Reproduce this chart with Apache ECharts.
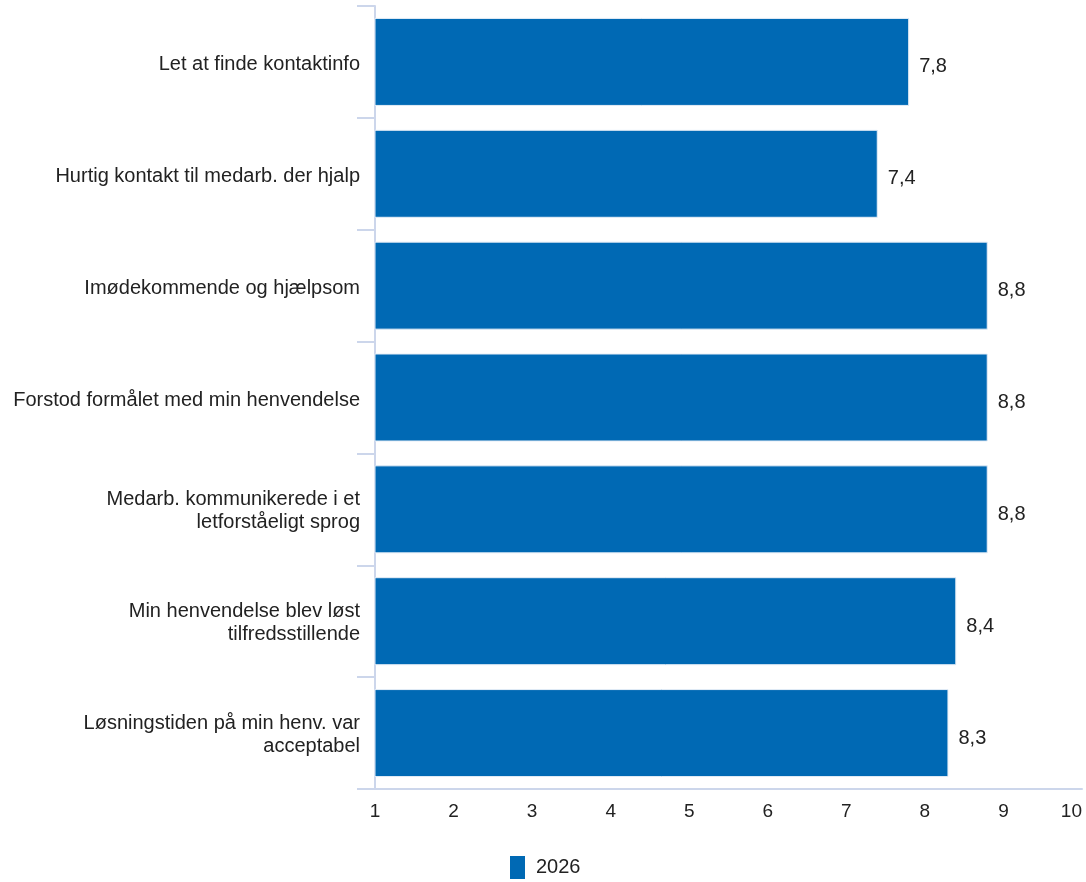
<!DOCTYPE html>
<html>
<head>
<meta charset="utf-8">
<script src="https://cdn.jsdelivr.net/npm/echarts@6/dist/echarts.min.js"></script>
<style>
html,body{margin:0;padding:0;background:#fff;}
#chart{width:1086px;height:882px;}
</style>
</head>
<body>
<div id="chart"></div>
<script>
const categories = [
  "Let at finde kontaktinfo",
  "Hurtig kontakt til medarb. der hjalp",
  "Imødekommende og hjælpsom",
  "Forstod formålet med min henvendelse",
  "Medarb. kommunikerede i et\nletforståeligt sprog",
  "Min henvendelse blev løst\ntilfredsstillende",
  "Løsningstiden på min henv. var\nacceptabel"
];
const values2026 = [7.8, 7.4, 8.8, 8.8, 8.8, 8.4, 8.3];
const seriesName = "2026";

const chart = echarts.init(document.getElementById('chart'), null, {renderer: 'canvas'});
const FONT = 'Liberation Sans, Arial, sans-serif';
const lblStyle = {fontSize: 20, color: '#222', lineHeight: 25, fontFamily: FONT, align: 'right'};
chart.setOption({
  animation: false,
  backgroundColor: '#ffffff',
  textStyle: {fontFamily: FONT},
  grid: {left: 375, right: 4, top: 6, bottom: 93, containLabel: false},
  legend: {
    data: [seriesName],
    left: 505,
    top: 851,
    icon: 'rect',
    itemWidth: 15,
    itemHeight: 23,
    itemGap: 10,
    itemStyle: {borderWidth: 0},
    textStyle: {fontSize: 20, color: '#222', fontFamily: FONT, padding: [0, 0, 0, 6]}
  },
  xAxis: {
    type: 'value',
    min: 1,
    max: 10,
    interval: 1,
    axisLine: {show: true, lineStyle: {color: '#ccd6eb', width: 2}},
    axisTick: {show: false},
    splitLine: {show: false},
    axisLabel: {fontSize: 19, color: '#222', margin: 13, fontFamily: FONT, alignMaxLabel: 'right'}
  },
  yAxis: {
    type: 'category',
    inverse: true,
    data: categories,
    axisLine: {show: true, lineStyle: {color: '#ccd6eb', width: 2}},
    axisTick: {show: true, length: 18, alignWithLabel: false, lineStyle: {color: '#ccd6eb', width: 2}},
    axisLabel: {
      fontSize: 20, color: '#222', margin: 15, lineHeight: 25, align: 'right', fontFamily: FONT,
      formatter: v => v.split('\n').map((s, i) => '{' + (i === 0 ? 'f' : 'a') + '|' + s + '}').join('\n'),
      rich: {
        f: Object.assign({}, lblStyle, {padding: [6, 0, 0, 0]}),
        a: Object.assign({}, lblStyle, {padding: [2, 0, 0, 0]})
      }
    }
  },
  series: [{
    name: seriesName,
    type: 'bar',
    data: values2026,
    barWidth: 88,
    itemStyle: {color: '#0069b4', borderColor: '#e6eef7', borderWidth: 1},
    label: {
      show: true,
      position: 'right',
      distance: 10,
      offset: [0, 5],
      fontSize: 20,
      color: '#222',
      fontFamily: FONT,
      formatter: p => String(p.value).replace('.', ',')
    }
  }]
});
</script>
</body>
</html>
